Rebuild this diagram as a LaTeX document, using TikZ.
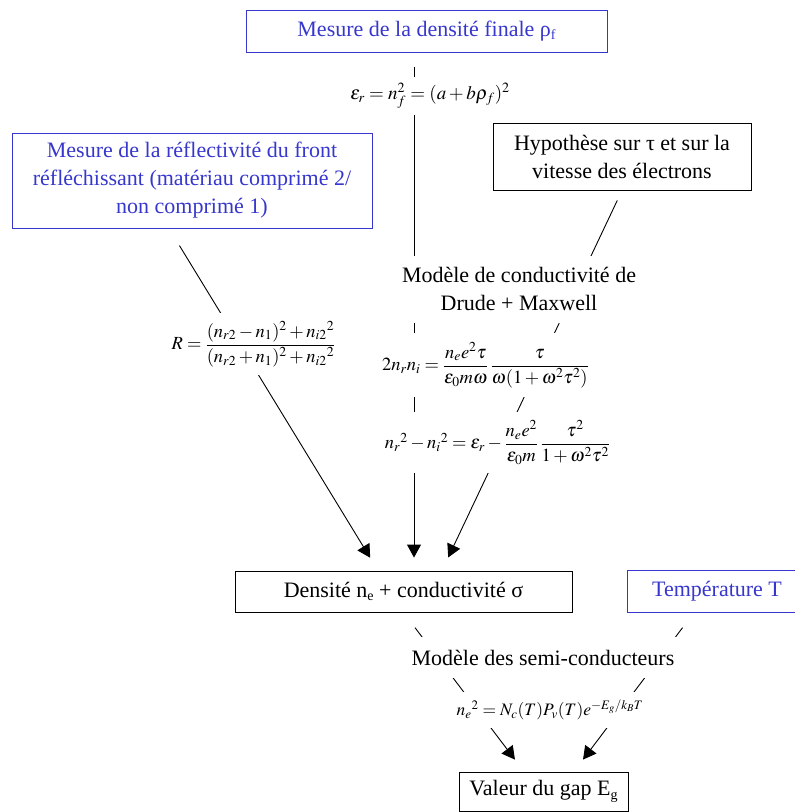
\documentclass[tikz,border=0pt]{standalone}
\usepackage{amsmath}
\usepackage{mathptmx}
\usepackage[no-math]{fontspec}
\setmainfont{Liberation Serif}
\usetikzlibrary{arrows.meta,backgrounds,calc}
\definecolor{myblue}{RGB}{55,55,205}
\newcommand{\lsub}[1]{\raisebox{-0.35ex}{\fontsize{14}{14}\selectfont #1}}
\begin{document}
\begin{tikzpicture}[x=1pt,y=-1pt,
  txt/.style={font=\fontsize{22}{28}\selectfont},
  bluebox/.style={txt, draw=myblue, line width=1pt, text=myblue, inner sep=0pt, align=center},
  blackbox/.style={txt, draw=black, line width=0.9pt, inner sep=0pt, align=center},
  lbl/.style={txt, fill=white, inner sep=0pt, align=center},
  eqn/.style={fill=white, inner sep=0pt, font=\fontsize{18.5}{22}\selectfont},
  conn/.style={line width=0.9pt},
  arr/.style={conn, -{Triangle[length=13pt,width=14pt]}}
]
\useasboundingbox (0,0) rectangle (795,812);
% boxes
\node[bluebox, minimum width=361pt, minimum height=42pt] (topbox) at (426.5,31) {Mesure de la densité finale ρ\lsub{f}};
\node[bluebox, minimum width=360pt, minimum height=95pt] (lbox) at (192,180.5) {Mesure de la réflectivité du front\\réfléchissant (matériau comprimé 2/\\non comprimé 1)};
\node[blackbox, minimum width=258pt, minimum height=67pt] (hyp) at (622,156.5) {Hypothèse sur τ et sur la\\vitesse des électrons};
\node[blackbox, minimum width=337pt, minimum height=41pt] (dens) at (403.5,591.5) {Densité n\lsub{e} + conductivité σ};
\node[bluebox, minimum width=180pt, minimum height=42pt] (temp) at (717,591) {Température T};
\node[blackbox, minimum width=169pt, minimum height=39pt] (val) at (543.5,791.5) {Valeur du gap E\lsub{g}};
% text labels
\node[lbl, minimum width=250pt, minimum height=67pt] (drude) at (519,289) {Modèle de conductivité de\\Drude + Maxwell};
\node[lbl, minimum width=272pt, minimum height=41pt] (semi) at (543,657.5) {Modèle des semi-conducteurs};
% equations
\node[eqn, font=\fontsize{19}{22}\selectfont, minimum width=180pt, minimum height=38pt] (eq1) at (430,96) {$\varepsilon_r = n_f^{2} = (a+b\rho_f)^2$};
\node[eqn, minimum width=175pt, minimum height=62pt] (eqR) at (253.5,344) {$R=\dfrac{(n_{r2}-n_1)^2+{n_{i2}}^2}{(n_{r2}+n_1)^2+{n_{i2}}^2}$};
\node[eqn, minimum width=215pt, minimum height=64pt] (eq2) at (485.5,365) {$2n_rn_i=\dfrac{n_e e^2\tau}{\varepsilon_0 m\omega}\,\dfrac{\tau}{\omega(1+\omega^2\tau^2)}$};
\node[eqn, minimum width=240pt, minimum height=61pt] (eq3) at (497.5,442.5) {${n_r}^2-{n_i}^2=\varepsilon_r-\dfrac{n_e e^2}{\varepsilon_0 m}\,\dfrac{\tau^2}{1+\omega^2\tau^2}$};
\node[eqn, font=\fontsize{17.5}{21}\selectfont, minimum width=250pt, minimum height=36pt] (eq5) at (550,710) {${n_e}^2=N_c(T)P_v(T)e^{-E_g/k_BT}$};
% connectors
\begin{scope}[on background layer]
\draw[arr, shorten <=14pt, shorten >=13pt] ($(topbox.south)+(-12.5,0)$) -- ($(dens.north)+(10.5,0)$);
\draw[arr, shorten <=20pt, shorten >=15pt] ($(lbox.south)+(-23,0)$) -- ($(dens.north)+(-25.5,0)$);
\draw[arr, shorten <=11pt, shorten >=14.5pt] (hyp.south) -- ($(dens.north)+(38.5,0)$);
\draw[arr, shorten <=19pt, shorten >=15pt] (dens.south) -- ($(val.north)+(-19.5,0)$);
\draw[arr, shorten <=19pt, shorten >=15pt] ($(temp.south)+(-23,0)$) -- ($(val.north)+(30.5,0)$);
\end{scope}
\end{tikzpicture}
\end{document}
